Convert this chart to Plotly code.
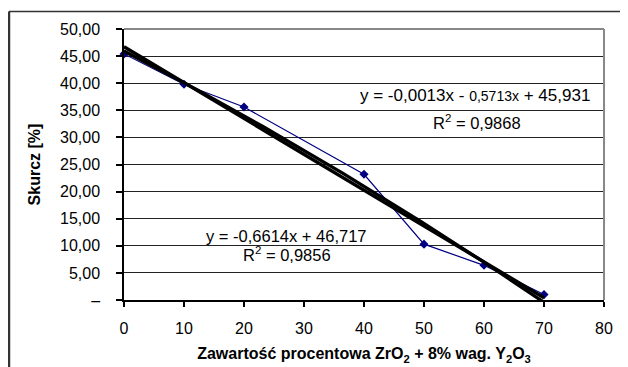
import numpy as np
import plotly.graph_objects as go

# Data
x_vals = [0, 10, 20, 40, 50, 60, 70]
shrink = [45.4, 39.8, 35.6, 23.2, 10.3, 6.4, 1.0]

# Trendline coefficients (as displayed on the chart)
lin_coef = [-0.6614, 46.717]
poly_coef = [-0.0013, -0.5713, 45.931]

y_tickvals = [0, 5, 10, 15, 20, 25, 30, 35, 40, 45, 50]
y_ticktext = ["–", "5,00", "10,00", "15,00", "20,00", "25,00", "30,00",
              "35,00", "40,00", "45,00", "50,00"]
x_tickvals = [0, 10, 20, 30, 40, 50, 60, 70, 80]

xt = np.linspace(0, 70, 141)
y_lin = np.polyval(lin_coef, xt)
y_poly = np.polyval(poly_coef, xt)

FONT = "Liberation Sans"

fig = go.Figure()
fig.add_trace(go.Scatter(x=x_vals, y=shrink, mode="lines+markers",
                         line=dict(color="#000080", width=1.2),
                         marker=dict(symbol="diamond", size=7, color="#000080"),
                         showlegend=False, cliponaxis=False))
fig.add_trace(go.Scatter(x=xt, y=y_poly, mode="lines",
                         line=dict(color="black", width=3.3), showlegend=False))
fig.add_trace(go.Scatter(x=xt, y=y_lin, mode="lines",
                         line=dict(color="black", width=3.3), showlegend=False))

fig.update_layout(
    width=620, height=359,
    margin=dict(l=116, r=24, t=21, b=67),
    paper_bgcolor="white", plot_bgcolor="white",
    font=dict(family=FONT, size=16, color="black"),
    xaxis=dict(range=[0, 80], tickvals=x_tickvals, showgrid=False,
               showline=True, linecolor="black", linewidth=1.5,
               ticks="outside", ticklen=5, tickcolor="black", tickwidth=1.5,
               ticklabelstandoff=8, automargin=False,
               zeroline=False, tickfont=dict(size=16),
               title=dict(text="<b>Zawartość procentowa ZrO<sub>2</sub> + 8% wag. Y<sub>2</sub>O<sub>3</sub></b>",
                          font=dict(size=16), standoff=12)),
    yaxis=dict(range=[0, 50], tickvals=y_tickvals, ticktext=y_ticktext,
               showgrid=True, gridcolor="#222222", gridwidth=1.2,
               showline=True, linecolor="black", linewidth=1.5,
               ticks="outside", ticklen=6, tickcolor="black", tickwidth=1.5,
               ticklabelstandoff=13, automargin=False,
               zeroline=False, tickfont=dict(size=16),
               title=dict(text="<b>Skurcz [%]</b>", font=dict(size=16), standoff=15)),
)

# plot border (top/right gray)
fig.add_shape(type="line", xref="paper", yref="paper", x0=0, x1=1, y0=1, y1=1,
              line=dict(color="#888888", width=2), layer="above")
fig.add_shape(type="line", xref="paper", yref="paper", x0=1, x1=1, y0=0, y1=1,
              line=dict(color="#888888", width=2), layer="above")

# outer chart frame
fig.add_shape(type="line", xref="paper", yref="paper",
              x0=-0.2396, x1=-0.2396, y0=1.065, y1=-0.4,
              line=dict(color="#333333", width=2.5))
fig.add_shape(type="line", xref="paper", yref="paper",
              x0=-0.2396, x1=1.2, y0=1.065, y1=1.065,
              line=dict(color="#333333", width=1.5))

fig.add_annotation(x=58.5, y=37.8, xref="x", yref="y", showarrow=False,
                   text="y = -0,0013x - <span style='font-size:14px'>0,5713x</span> + 45,931",
                   font=dict(size=17))
fig.add_annotation(x=58.8, y=32.9, xref="x", yref="y", showarrow=False,
                   text="R<sup>2</sup> = 0,9868", font=dict(size=16.5))
fig.add_annotation(x=27, y=11.8, xref="x", yref="y", showarrow=False,
                   text="y = -0,6614x + 46,717", font=dict(size=16.5))
fig.add_annotation(x=27.2, y=8.5, xref="x", yref="y", showarrow=False,
                   text="R<sup>2</sup> = 0,9856", font=dict(size=16.5))

fig.write_html("out.html")
